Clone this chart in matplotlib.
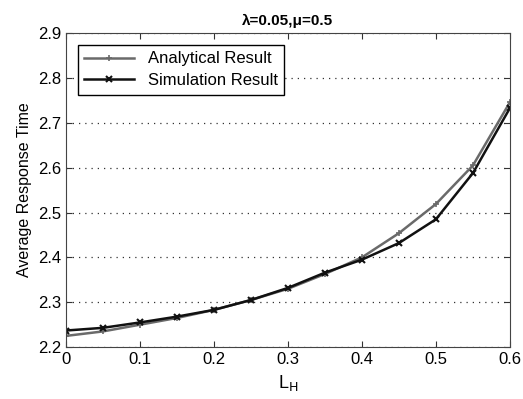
import numpy as np
import matplotlib
matplotlib.use("Agg")
import matplotlib.pyplot as plt
from matplotlib import rcParams

rcParams.update({
    "font.family": "Liberation Sans",
    "font.size": 12,
    "xtick.direction": "in",
    "ytick.direction": "in",
    "xtick.top": True,
    "ytick.right": True,
})

lh = [0, 0.05, 0.1, 0.15, 0.2, 0.25, 0.3, 0.35, 0.4, 0.45, 0.5, 0.55, 0.6]
analytical = [2.225, 2.235, 2.25, 2.265, 2.283, 2.305, 2.33, 2.363, 2.40,
              2.454, 2.519, 2.605, 2.746]
simulation = [2.237, 2.243, 2.255, 2.268, 2.283, 2.305, 2.332, 2.366, 2.395,
              2.432, 2.485, 2.588, 2.733]

fig = plt.figure(figsize=(5.23, 3.99), dpi=100)
ax = fig.add_axes([0.126, 0.130, 0.849, 0.787])

ax.plot(lh, analytical, "-+", color="#6a6a6a", lw=1.8, ms=5, mew=1.2,
        label="Analytical Result")
ax.plot(lh, simulation, "-x", color="#111111", lw=1.8, ms=5, mew=1.5,
        label="Simulation Result")

ax.set_xlim(0, 0.6)
ax.set_ylim(2.2, 2.9)
ax.set_xticks(np.arange(0, 0.61, 0.1))
ax.set_yticks(np.arange(2.2, 2.91, 0.1))
ax.set_xticklabels(["0", "0.1", "0.2", "0.3", "0.4", "0.5", "0.6"])
ax.yaxis.grid(True, ls=(0, (1, 4)), color="#333333", lw=0.9)
ax.tick_params(length=4, color="#333333", labelsize=12)
for s in ax.spines.values():
    s.set_color("#444444")

ax.set_xlabel("L$_\\mathrm{H}$", fontsize=13)
ax.set_ylabel("Average Response Time", fontsize=11.5)
ax.set_title("λ=0.05,μ=0.5", fontsize=11, fontweight="bold")

leg = ax.legend(loc="upper left", fancybox=False, edgecolor="black",
                framealpha=1, fontsize=12, handlelength=3.0,
                borderaxespad=0.7, labelspacing=0.4)
leg.get_frame().set_linewidth(1.0)

fig.savefig("out.png", dpi=100)
